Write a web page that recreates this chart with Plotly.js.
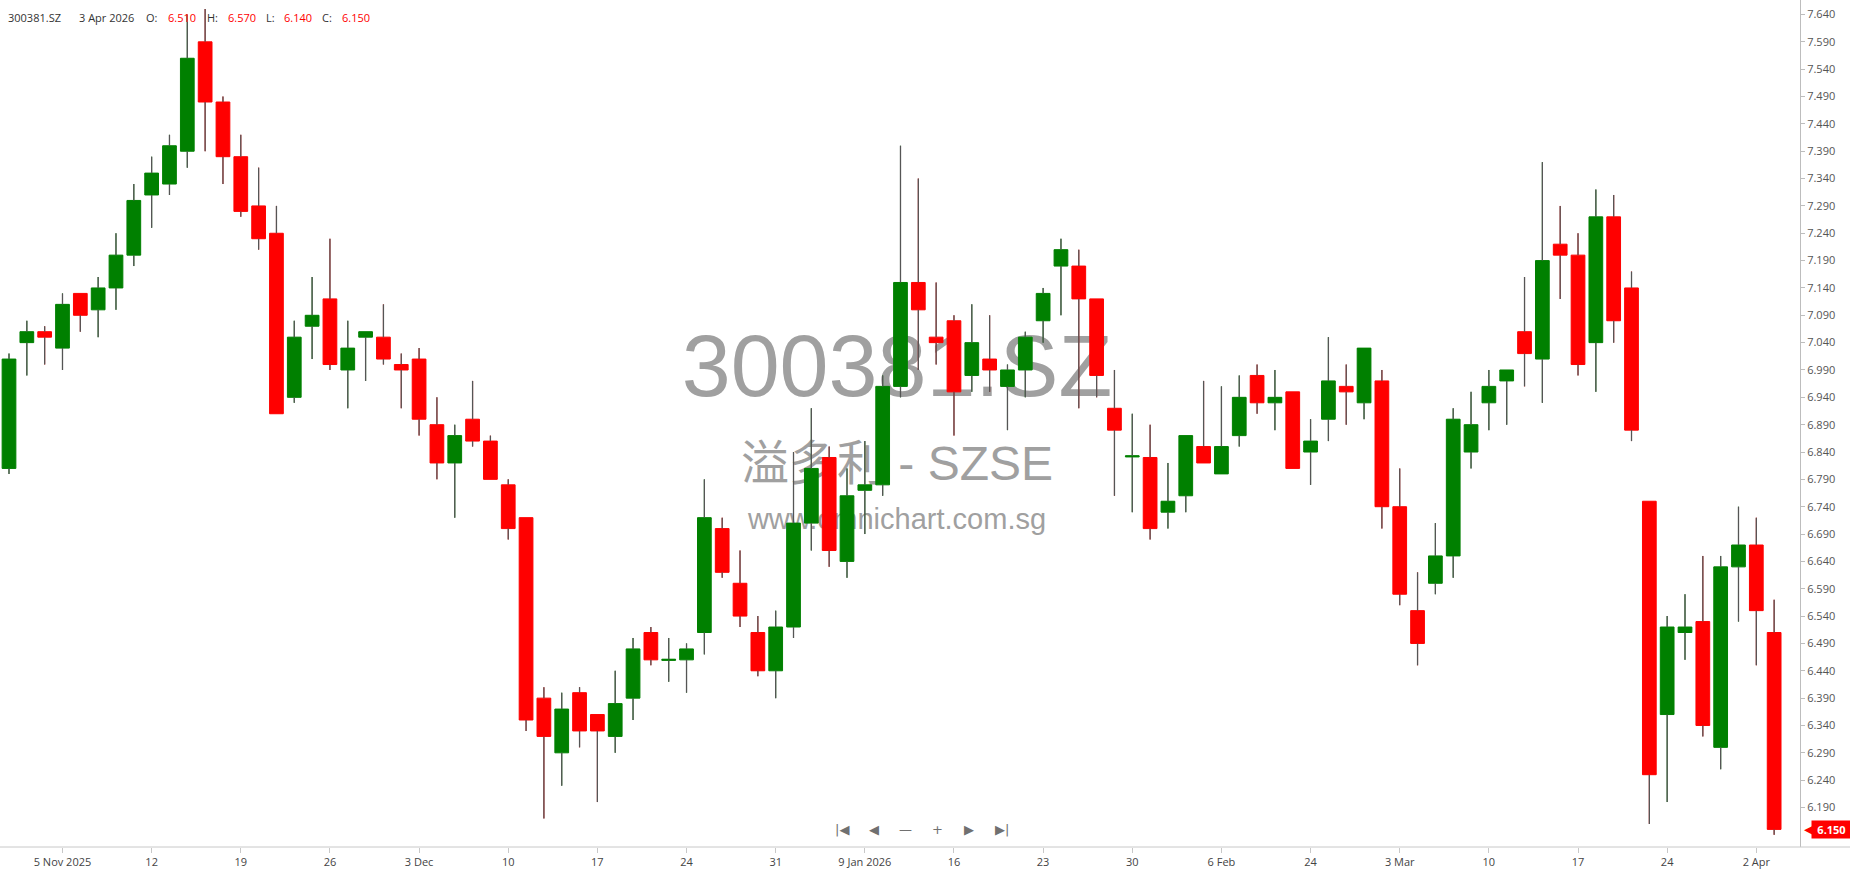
<!DOCTYPE html>
<html>
<head>
<meta charset="utf-8">
<script src="https://cdn.plot.ly/plotly-3.0.1.min.js"></script>
<style>
  html, body { margin:0; padding:0; background:#ffffff; }
  #wrap { position:relative; width:1850px; height:874px; overflow:hidden; }
  #wm { position:absolute; left:0; top:0; width:1850px; height:874px; z-index:0; }
  .wm { position:absolute; left:0; width:1794px; text-align:center; line-height:1; color:#a0a0a0; white-space:nowrap;
        font-family:'Liberation Sans', Arial, 'Noto Sans CJK SC', sans-serif; }
  #plot { position:absolute; left:0; top:0; width:1850px; height:874px; z-index:1; }
</style>
</head>
<body>
<div id="wrap">
  <div id="wm">
    <div class="wm" id="wm1" style="top:322px;font-size:88px;">300381.SZ</div>
    <div class="wm" id="wm2" style="top:440px;font-size:48px;">溢多利 - SZSE</div>
    <div class="wm" id="wm3" style="top:505px;font-size:29px;">www.omnichart.com.sg</div>
  </div>
  <div id="plot"></div>
</div>
<script>
// ---- data ----
const symbol = '300381.SZ';
const lastDateLabel = '3 Apr 2026';
const dates = [
 '2025-10-31','2025-11-03','2025-11-04','2025-11-05','2025-11-06','2025-11-07','2025-11-10','2025-11-11','2025-11-12','2025-11-13',
 '2025-11-14','2025-11-17','2025-11-18','2025-11-19','2025-11-20','2025-11-21','2025-11-24','2025-11-25','2025-11-26','2025-11-27',
 '2025-11-28','2025-12-01','2025-12-02','2025-12-03','2025-12-04','2025-12-05','2025-12-08','2025-12-09','2025-12-10','2025-12-11',
 '2025-12-12','2025-12-15','2025-12-16','2025-12-17','2025-12-18','2025-12-19','2025-12-22','2025-12-23','2025-12-24','2025-12-25',
 '2025-12-26','2025-12-29','2025-12-30','2025-12-31','2026-01-05','2026-01-06','2026-01-07','2026-01-08','2026-01-09','2026-01-12',
 '2026-01-13','2026-01-14','2026-01-15','2026-01-16','2026-01-19','2026-01-20','2026-01-21','2026-01-22','2026-01-23','2026-01-26',
 '2026-01-27','2026-01-28','2026-01-29','2026-01-30','2026-02-02','2026-02-03','2026-02-04','2026-02-05','2026-02-06','2026-02-09',
 '2026-02-10','2026-02-11','2026-02-12','2026-02-24','2026-02-25','2026-02-26','2026-02-27','2026-03-02','2026-03-03','2026-03-04',
 '2026-03-05','2026-03-06','2026-03-09','2026-03-10','2026-03-11','2026-03-12','2026-03-13','2026-03-16','2026-03-17','2026-03-18',
 '2026-03-19','2026-03-20','2026-03-23','2026-03-24','2026-03-25','2026-03-26','2026-03-27','2026-03-31','2026-04-02','2026-04-03'
];
const open = [
 6.81,7.04,7.06,7.03,7.13,7.10,7.14,7.20,7.31,7.33,
 7.39,7.59,7.48,7.38,7.29,7.24,6.94,7.07,7.12,6.99,
 7.05,7.05,7.00,7.01,6.89,6.82,6.90,6.86,6.78,6.72,
 6.39,6.29,6.40,6.36,6.32,6.39,6.51,6.459,6.46,6.51,
 6.70,6.60,6.51,6.44,6.52,6.71,6.83,6.64,6.77,6.78,
 6.96,7.15,7.05,7.08,6.98,7.01,6.96,6.99,7.08,7.18,
 7.18,7.12,6.92,6.831,6.83,6.73,6.76,6.85,6.80,6.87,
 6.98,6.93,6.95,6.84,6.90,6.96,6.93,6.97,6.74,6.55,
 6.60,6.65,6.84,6.93,6.97,7.06,7.01,7.22,7.20,7.04,
 7.27,7.14,6.75,6.36,6.51,6.53,6.30,6.63,6.67,6.51
];
const high = [
 7.02,7.08,7.07,7.13,7.13,7.16,7.24,7.33,7.38,7.42,
 7.64,7.65,7.49,7.42,7.36,7.29,7.08,7.16,7.23,7.08,
 7.06,7.11,7.02,7.03,6.94,6.89,6.97,6.87,6.79,6.72,
 6.41,6.40,6.41,6.36,6.44,6.50,6.52,6.50,6.49,6.79,
 6.72,6.66,6.54,6.55,6.84,6.92,6.85,6.81,6.86,6.98,
 7.40,7.34,7.15,7.09,7.11,7.09,7.00,7.06,7.14,7.23,
 7.21,7.12,6.99,6.91,6.89,6.82,6.87,6.97,6.96,6.98,
 7.00,6.99,6.95,6.90,7.05,7.00,7.03,6.99,6.81,6.62,
 6.71,6.92,6.95,6.99,6.99,7.16,7.37,7.29,7.24,7.32,
 7.31,7.17,6.75,6.54,6.58,6.65,6.65,6.74,6.72,6.57
];
const low = [
 6.80,6.98,7.00,6.99,7.06,7.05,7.10,7.18,7.25,7.31,
 7.36,7.39,7.33,7.27,7.21,6.91,6.93,7.01,6.99,6.92,
 6.97,7.00,6.92,6.87,6.79,6.72,6.85,6.79,6.68,6.33,
 6.17,6.23,6.30,6.20,6.29,6.35,6.45,6.42,6.40,6.47,
 6.61,6.52,6.43,6.39,6.50,6.66,6.63,6.61,6.69,6.76,
 6.94,6.99,7.00,6.87,6.95,6.95,6.88,6.94,7.04,7.09,
 6.92,6.94,6.76,6.73,6.68,6.70,6.73,6.82,6.80,6.85,
 6.91,6.88,6.81,6.78,6.86,6.89,6.90,6.70,6.56,6.45,
 6.58,6.61,6.81,6.88,6.89,6.96,6.93,7.12,6.98,6.95,
 7.04,6.86,6.16,6.20,6.46,6.32,6.26,6.53,6.45,6.14
];
const close = [
 7.01,7.06,7.05,7.11,7.09,7.14,7.20,7.30,7.35,7.40,
 7.56,7.48,7.38,7.28,7.23,6.91,7.05,7.09,7.00,7.03,
 7.06,7.01,6.99,6.90,6.82,6.87,6.86,6.79,6.70,6.35,
 6.32,6.37,6.33,6.33,6.38,6.48,6.46,6.461,6.48,6.72,
 6.62,6.54,6.44,6.52,6.71,6.81,6.66,6.76,6.78,6.96,
 7.15,7.10,7.04,6.95,7.04,6.99,6.99,7.05,7.13,7.21,
 7.12,6.98,6.88,6.833,6.70,6.75,6.87,6.82,6.85,6.94,
 6.93,6.94,6.81,6.86,6.97,6.95,7.03,6.74,6.58,6.49,
 6.65,6.90,6.89,6.96,6.99,7.02,7.19,7.20,7.00,7.27,
 7.08,6.88,6.25,6.52,6.52,6.34,6.63,6.67,6.55,6.15
];
const xTickDates = ['2025-11-05','2025-11-12','2025-11-19','2025-11-26','2025-12-03','2025-12-10','2025-12-17','2025-12-24','2025-12-31','2026-01-09',
                    '2026-01-16','2026-01-23','2026-01-30','2026-02-06','2026-02-24','2026-03-03','2026-03-10','2026-03-17','2026-03-24','2026-04-02'];
const xTickText  = ['5 Nov 2025','12','19','26','3 Dec','10','17','24','31','9 Jan 2026',
                    '16','23','30','6 Feb','24','3 Mar','10','17','24','2 Apr'];
const yTickVals = [6.19,6.24,6.29,6.34,6.39,6.44,6.49,6.54,6.59,6.64,6.69,6.74,6.79,6.84,6.89,6.94,6.99,
                   7.04,7.09,7.14,7.19,7.24,7.29,7.34,7.39,7.44,7.49,7.54,7.59,7.64];

// ---- style ----
const GREEN = '#008000', RED = '#ff0000', WICK = '#555555';
const PW = 1800, PH = 847;
const FONT = "'Open Sans', 'Noto Sans', sans-serif";

// wick segments (above & below body), drawn over the candle's own whiskers
const wx = [], wy = [];
for (let i = 0; i < dates.length; i++) {
  const top = Math.max(open[i], close[i]), bot = Math.min(open[i], close[i]);
  wx.push(dates[i], dates[i], dates[i], dates[i], dates[i], dates[i]);
  wy.push(high[i], top, null, bot, low[i], null);
}

const candles = {
  type: 'candlestick', x: dates, open: open, high: high, low: low, close: close,
  increasing: { line: { color: GREEN, width: 1 }, fillcolor: GREEN },
  decreasing: { line: { color: RED, width: 1 }, fillcolor: RED },
  whiskerwidth: 0, hoverinfo: 'skip', showlegend: false
};
const wicks = {
  type: 'scatter', mode: 'lines', x: wx, y: wy, connectgaps: false,
  line: { color: WICK, width: 1.3 }, hoverinfo: 'skip', showlegend: false
};

const last = dates.length - 1;
const hy = 1 - 18 / PH;
function hdr(text, px, color) {
  return { xref: 'paper', yref: 'paper', x: px / PW, y: hy, xanchor: 'left', yanchor: 'middle',
           text: text, showarrow: false, font: { family: FONT, size: 11, color: color } };
}
const annotations = [
  hdr(symbol, 6, '#333333'),
  hdr(lastDateLabel, 77, '#333333'),
  hdr('O:', 144, '#333333'), hdr(open[last].toFixed(3), 166, RED),
  hdr('H:', 205, '#333333'), hdr(high[last].toFixed(3), 226, RED),
  hdr('L:', 264, '#333333'), hdr(low[last].toFixed(3), 282, RED),
  hdr('C:', 320, '#333333'), hdr(close[last].toFixed(3), 340, RED)
];
// navigation glyphs
const navY = (PH - 829) / PH;
[['|◀', 842], ['◀', 874], ['—', 905], ['+', 937], ['▶', 969], ['▶|', 1002]].forEach(function (g) {
  annotations.push({ xref: 'paper', yref: 'paper', x: g[1] / PW, y: navY, xanchor: 'center', yanchor: 'middle',
    text: g[0], showarrow: false, font: { family: 'DejaVu Sans', size: 13, color: '#707070' } });
});
// last price badge
annotations.push({ xref: 'paper', yref: 'y', x: 1811 / PW, y: close[last], xanchor: 'left', yanchor: 'middle',
  text: '<b>' + close[last].toFixed(3) + '</b>', showarrow: false, bgcolor: RED, borderpad: 1, width: 37, align: 'center',
  font: { family: FONT, size: 11, color: '#ffffff' } });
annotations.push({ xref: 'paper', yref: 'y', x: 1817 / PW, y: close[last], xanchor: 'right', yanchor: 'middle',
  text: '◀', showarrow: false, font: { family: 'DejaVu Sans', size: 14, color: RED } });

const layout = {
  width: 1850, height: 874,
  margin: { l: 0, r: 50, t: 0, b: 27, pad: 0 },
  paper_bgcolor: 'rgba(0,0,0,0)', plot_bgcolor: 'rgba(0,0,0,0)',
  showlegend: false, dragmode: false,
  boxgap: 0.23, boxgroupgap: 0,
  xaxis: {
    type: 'category', range: [-0.505, 100.45],
    tickvals: xTickDates, ticktext: xTickText,
    ticks: 'outside', ticklen: 5, tickcolor: '#c8c8c8', tickwidth: 1,
    tickfont: { family: FONT, size: 11, color: '#444444' },
    showgrid: false, zeroline: false, showline: false,
    rangeslider: { visible: false }, fixedrange: true
  },
  yaxis: {
    side: 'right', range: [6.1178, 7.6665],
    tickvals: yTickVals, tickformat: '.3f',
    ticks: 'outside', ticklen: 4, tickcolor: '#bdbdbd',
    tickfont: { family: FONT, size: 11, color: '#555555' },
    showgrid: false, zeroline: false, showline: true, linecolor: '#bdbdbd', linewidth: 1,
    fixedrange: true
  },
  shapes: [
    { type: 'line', xref: 'paper', yref: 'paper', x0: 0, x1: 1850 / PW, y0: 0, y1: 0,
      line: { color: '#c8c8c8', width: 1 } }
  ],
  annotations: annotations
};

Plotly.newPlot('plot', [candles, wicks], layout, { staticPlot: true, displayModeBar: false });
</script>
</body>
</html>
